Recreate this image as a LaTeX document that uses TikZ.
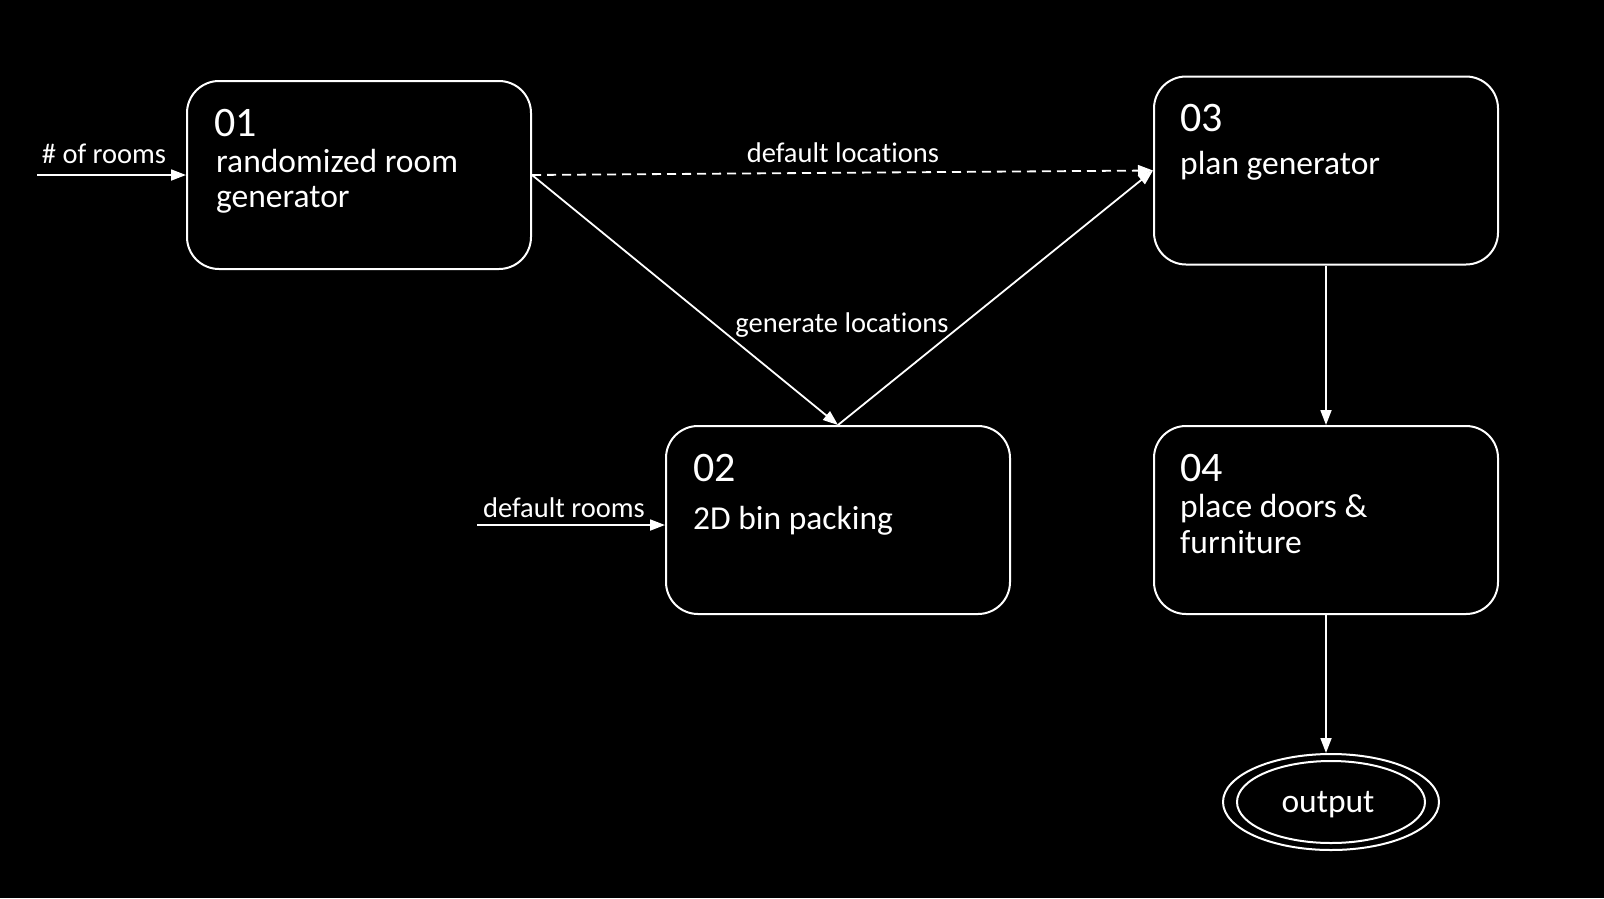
\documentclass[tikz,border=0pt]{standalone}
\usepackage{fontspec}
\setmainfont{Carlito}[Ligatures={NoCommon}]
\usetikzlibrary{arrows.meta,shapes.geometric}
\begin{document}
\begin{tikzpicture}[x=1pt,y=-1pt,
  box/.style={draw=white,line width=2pt,rounded corners=32pt,minimum width=344pt,minimum height=188pt,fill=black,inner sep=0pt},
  num/.style={text=white,font=\fontsize{42}{46}\selectfont,anchor=base west,inner sep=0pt},
  txt/.style={text=white,font=\fontsize{33.5}{36}\selectfont,anchor=base west,inner sep=0pt},
  lbl/.style={text=white,font=\fontsize{28.5}{30}\selectfont,anchor=base,inner sep=0pt},
  conn/.style={draw=white,line width=1.8pt,-{Triangle[length=15pt,width=11pt]}},
  dconn/.style={conn,dash pattern=on 9pt off 6pt}]
\fill[black] (0,0) rectangle (1604,898);
\useasboundingbox (0,0) rectangle (1604,898);
% boxes
\node[box] (b1) at (359,175) {};
\node[box] (b3) at (1326,170.5) {};
\node[box] (b2) at (838,520) {};
\node[box] (b4) at (1326,520) {};
% output
\node[ellipse,draw=white,line width=2pt,minimum width=216pt,minimum height=96pt,inner sep=0pt] (out) at (1331,802) {};
\node[ellipse,draw=white,line width=2pt,minimum width=188pt,minimum height=82pt,inner sep=0pt] (outin) at (1331,802) {};
\node[text=white,font=\fontsize{33.5}{36}\selectfont,inner sep=0pt] (outt) at (1328,805) {output};
% texts
\node[num] (n1) at (214,136) {01};
\node[txt] (t1a) at (216,172) {randomized room};
\node[txt] (t1b) at (216,207) {generator};
\node[num] (n3) at (1180,131) {03};
\node[txt] (t3) at (1180,174) {plan generator};
\node[num] (n2) at (693,481) {02};
\node[txt] (t2) at (693,529) {2D bin packing};
\node[num] (n4) at (1180,481) {04};
\node[txt] (t4a) at (1180,517) {place doors \&};
\node[txt] (t4b) at (1180,553) {furniture};
% inputs
\coordinate (in1) at (37,175);
\coordinate (in2) at (477,525);
\draw[conn] (in1) -- (b1.west);
\draw[conn] (in2) -- (in2 -| b2.west);
\node[lbl] (l1) at (104,163) {\# of rooms};
\node[lbl] (l2) at (564,517) {default rooms};
% connectors
\draw[dconn] (b1.east) -- (b3.west);
\draw[conn] (b1.east) -- (b2.north);
\draw[conn] (b2.north) -- (b3.west);
\draw[conn] (b3.south) -- (b4.north);
\draw[conn] (b4.south) -- (b4.south |- out.north);
\node[lbl] (l3) at (843,162) {default locations};
\node[lbl] (l4) at (842,332) {generate locations};
\end{tikzpicture}
\end{document}
